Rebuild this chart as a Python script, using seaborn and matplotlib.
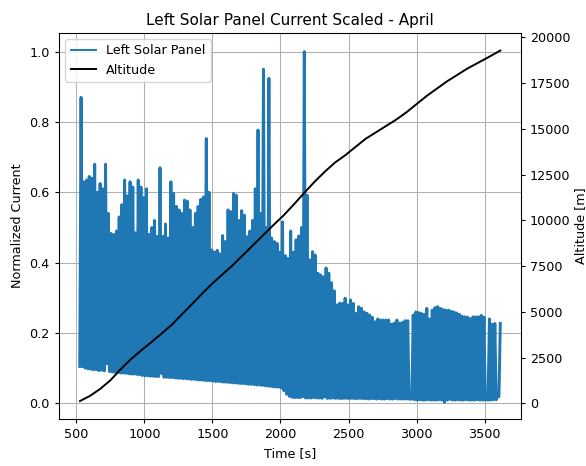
import numpy as np
import pandas as pd
import matplotlib
matplotlib.use("Agg")
import matplotlib.pyplot as plt
from matplotlib.lines import Line2D
import seaborn as sns

# Panel current: alternating trough / peak samples of the oscillating signal
trough_time = np.arange(525, 3606, 20)
trough_current = [
    0.105, 0.104, 0.100, 0.098, 0.097, 0.095, 0.096, 0.093, 0.094, 0.092,
    0.112, 0.090, 0.089, 0.088, 0.087, 0.086, 0.086, 0.085, 0.084, 0.083,
    0.083, 0.082, 0.081, 0.079, 0.078, 0.078, 0.077, 0.077, 0.076, 0.076,
    0.085, 0.074, 0.074, 0.073, 0.073, 0.072, 0.071, 0.071, 0.070, 0.070,
    0.069, 0.068, 0.068, 0.067, 0.066, 0.066, 0.065, 0.064, 0.064, 0.063,
    0.062, 0.062, 0.061, 0.060, 0.060, 0.059, 0.058, 0.058, 0.057, 0.056,
    0.056, 0.055, 0.054, 0.054, 0.053, 0.052, 0.052, 0.051, 0.050, 0.049,
    0.048, 0.047, 0.046, 0.046, 0.044, 0.036, 0.026, 0.020, 0.017, 0.016,
    0.016, 0.016, 0.019, 0.015, 0.015, 0.015, 0.016, 0.015, 0.015, 0.014,
    0.018, 0.014, 0.014, 0.015, 0.014, 0.014, 0.013, 0.014, 0.014, 0.013,
    0.014, 0.013, 0.013, 0.014, 0.013, 0.013, 0.012, 0.013, 0.013, 0.012,
    0.013, 0.012, 0.012, 0.013, 0.012, 0.012, 0.013, 0.012, 0.012, 0.012,
    0.012, 0.012, 0.012, 0.010, 0.009, 0.010, 0.009, 0.009, 0.010, 0.009,
    0.009, 0.009, 0.010, 0.009, 0.003, 0.009, 0.011, 0.009, 0.009, 0.010,
    0.009, 0.009, 0.010, 0.009, 0.009, 0.009, 0.010, 0.009, 0.009, 0.009,
    0.009, 0.009, 0.010, 0.010, 0.019,
]
peak_time = np.arange(535, 3616, 20)
peak_current = [
    0.87, 0.63, 0.635, 0.645, 0.64, 0.68, 0.60, 0.625, 0.61, 0.68,
    0.54, 0.483, 0.48, 0.49, 0.53, 0.565, 0.635, 0.59, 0.63, 0.615,
    0.485, 0.635, 0.615, 0.585, 0.61, 0.48, 0.50, 0.52, 0.475, 0.67,
    0.475, 0.51, 0.47, 0.63, 0.597, 0.56, 0.55, 0.54, 0.578, 0.575,
    0.55, 0.50, 0.54, 0.56, 0.58, 0.587, 0.753, 0.60, 0.436, 0.43,
    0.435, 0.425, 0.477, 0.46, 0.55, 0.545, 0.597, 0.592, 0.52, 0.548,
    0.535, 0.474, 0.49, 0.52, 0.61, 0.777, 0.54, 0.95, 0.50, 0.924,
    0.47, 0.46, 0.455, 0.43, 0.516, 0.42, 0.412, 0.49, 0.43, 0.465,
    0.476, 0.50, 1.0, 0.592, 0.408, 0.431, 0.422, 0.37, 0.365, 0.36,
    0.385, 0.37, 0.343, 0.32, 0.28, 0.285, 0.284, 0.299, 0.28, 0.294,
    0.284, 0.256, 0.275, 0.27, 0.26, 0.256, 0.251, 0.245, 0.232, 0.24,
    0.237, 0.237, 0.237, 0.237, 0.225, 0.228, 0.237, 0.228, 0.23, 0.235,
    0.235, 0.012, 0.251, 0.26, 0.258, 0.256, 0.253, 0.27, 0.24, 0.265,
    0.272, 0.275, 0.27, 0.267, 0.265, 0.265, 0.262, 0.26, 0.257, 0.253,
    0.248, 0.246, 0.245, 0.241, 0.246, 0.246, 0.246, 0.25, 0.245, 0.02,
    0.24, 0.225, 0.227, 0.02, 0.227,
]

# Flight altitude
alt_time = [527, 600, 675, 750, 825, 900, 975, 1050, 1125, 1200, 1275, 1350,
            1425, 1500, 1575, 1650, 1725, 1800, 1875, 1950, 2025, 2100, 2175,
            2250, 2325, 2400, 2475, 2550, 2625, 2700, 2775, 2850, 2925, 3000,
            3075, 3150, 3225, 3300, 3375, 3450, 3525, 3615]
altitude = [120, 400, 780, 1250, 1850, 2400, 2880, 3330, 3800, 4280, 4850,
            5420, 6000, 6550, 7050, 7550, 8100, 8650, 9200, 9750, 10280,
            10880, 11500, 12100, 12650, 13150, 13550, 14000, 14450, 14800,
            15150, 15500, 15900, 16350, 16800, 17200, 17600, 17950, 18300,
            18600, 18900, 19275]

current = pd.DataFrame({
    "time": np.concatenate([trough_time, peak_time]),
    "current": np.concatenate([trough_current, peak_current]),
}).sort_values("time")
alt = pd.DataFrame({"time": alt_time, "altitude": altitude})

plt.rcParams.update({
    "font.size": 9.2,
    "xtick.major.size": 3.2,
    "ytick.major.size": 3.2,
    "axes.linewidth": 0.75,
})

BLUE = "#1f77b4"
fig = plt.figure(figsize=(5.86, 4.66), dpi=100)
ax = fig.add_axes([0.1007, 0.1009, 0.7879, 0.8283])
ax2 = ax.twinx()

sns.lineplot(data=current, x="time", y="current", ax=ax, color=BLUE,
             linewidth=2.1, estimator=None, sort=False, legend=False)
sns.lineplot(data=alt, x="time", y="altitude", ax=ax2, color="black",
             linewidth=1.4, estimator=None, legend=False)

ax.set_xlim(373, 3765)
ax.set_ylim(-0.0445, 1.053)
ax2.set_ylim(-860, 20235)
ax.set_xticks([500, 1000, 1500, 2000, 2500, 3000, 3500])
ax.set_yticks([0.0, 0.2, 0.4, 0.6, 0.8, 1.0])
ax2.set_yticks(np.arange(0, 20001, 2500))

ax.grid(True, color="#b0b0b0", linewidth=0.75)
ax.set_xlabel("Time [s]")
ax.set_ylabel("Normalized Current")
ax2.set_ylabel("Altitude [m]", labelpad=2.5)
ax.set_title("Left Solar Panel Current Scaled - April", fontsize=11)

handles = [Line2D([], [], color=BLUE, linewidth=1.4),
           Line2D([], [], color="black", linewidth=1.4)]
ax.legend(handles, ["Left Solar Panel", "Altitude"], loc="upper left")

fig.savefig("out.png", dpi=100)
